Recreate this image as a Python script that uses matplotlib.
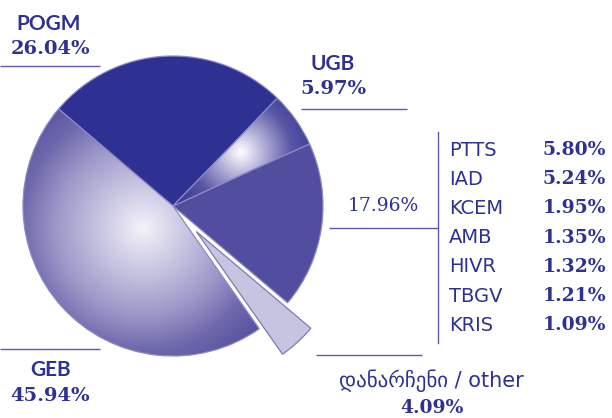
import numpy as np
import matplotlib
matplotlib.use("Agg")
import matplotlib.pyplot as plt
from matplotlib.colors import LinearSegmentedColormap

# ---- data ----
slice_names = ["POGM", "UGB", "group", "დანარჩენი / other", "GEB"]
slice_values = [26.04, 5.97, 17.96, 4.09, 45.94]
group_names = ["PTTS", "IAD", "KCEM", "AMB", "HIVR", "TBGV", "KRIS"]
group_values = [5.80, 5.24, 1.95, 1.35, 1.32, 1.21, 1.09]

NAVY = "#2E3192"
TXT = "#2E3192"
LINE = "#5E5BAA"

W, H = 612, 418
fig = plt.figure(figsize=(W / 100, H / 100), dpi=100)
ax = fig.add_axes([0, 0, 1, 1])

cx, cy, R = 173, H - 206, 150
explode = [0, 0, 0, 0.23 * R, 0]
colors = [NAVY, NAVY, "#524E9F", "#C6C4E1", "#6C66AC"]
wedges, _ = ax.pie(slice_values, colors=colors, startangle=139.7, counterclock=False,
                   explode=explode, center=(cx, cy), radius=R,
                   wedgeprops=dict(edgecolor="#8C89C6", linewidth=0.9))
wedges[3].set_edgecolor("#7C79B9")

# radial gradients
xs = np.linspace(cx - R - 5, cx + R + 5, 400)
ys = np.linspace(cy - R - 5, cy + R + 5, 400)
XX, YY = np.meshgrid(xs, ys)
ext = [xs[0], xs[-1], ys[0], ys[-1]]

def grad(idx, fx, fy, scale, stops):
    cmap = LinearSegmentedColormap.from_list("g%d" % idx, stops)
    d = np.sqrt((XX - fx) ** 2 + (YY - fy) ** 2) / scale
    d = np.clip(d, 0, 1)
    im = ax.imshow(d, extent=ext, origin="lower", cmap=cmap, vmin=0, vmax=1,
                   interpolation="bilinear", zorder=1.5)
    w = wedges[idx]
    w.set_facecolor("none")
    w.set_zorder(2)
    im.set_clip_path(w)

grad(4, 143, H - 228, 175, [(0, "#F3F2FA"), (0.25, "#C8C5E2"), (0.5, "#9C97C8"),
                            (0.7, "#6E68AC"), (1.0, "#48439A")])
grad(1, 241, H - 152, 85, [(0, "#FFFFFF"), (0.3, "#ABA8D4"), (0.6, "#5956A5"),
                           (1.0, NAVY)])

ax.set_xlim(0, W)
ax.set_ylim(0, H)
ax.set_aspect("equal")
ax.axis("off")

SANS = ["Lato", "DejaVu Sans"]
SERIF = "DejaVu Serif"

def pct(v):
    return f"{v:.2f}%"

def hline(x0, x1, ypix):
    ax.plot([x0, x1], [H - ypix, H - ypix], color=LINE, lw=1.0, solid_capstyle="butt")

# POGM
ax.text(49, H - 24, slice_names[0], family=SANS, weight="bold", fontsize=15, color=TXT,
        ha="center", va="center")
ax.text(50, H - 49, pct(slice_values[0]), family=SERIF, weight="bold", fontsize=14, color=TXT,
        ha="center", va="center")
hline(0, 100, 66)

# UGB
ax.text(333, H - 64, slice_names[1], family=SANS, weight="bold", fontsize=15, color=TXT,
        ha="center", va="center")
ax.text(333, H - 89, pct(slice_values[1]), family=SERIF, weight="bold", fontsize=14, color=TXT,
        ha="center", va="center")
hline(301, 407, 109)

# group
ax.text(383, H - 206, pct(slice_values[2]), family=SERIF, weight="medium", fontsize=13.5,
        color=TXT, ha="center", va="center")
hline(329, 438, 228)
ax.plot([438, 438], [H - 132, H - 343], color=LINE, lw=1.0)
for i, (n, v) in enumerate(zip(group_names, group_values)):
    yp = 150 + i * 29.2
    ax.text(449, H - yp, n, family="DejaVu Sans", fontsize=14, color=TXT,
            ha="left", va="center")
    ax.text(543, H - yp, pct(v), family=SERIF, weight="bold", fontsize=13.5, color=TXT,
            ha="left", va="center")

# other
hline(316, 422, 355)
ax.text(431, H - 381, slice_names[3], family=["DejaVu Sans"], fontsize=15, color=TXT,
        ha="center", va="center")
ax.text(432, H - 408, pct(slice_values[3]), family=SERIF, weight="bold", fontsize=13.5, color=TXT,
        ha="center", va="center")

# GEB
hline(0, 100, 349)
ax.text(51, H - 370, slice_names[4], family=SANS, weight="bold", fontsize=15, color=TXT,
        ha="center", va="center")
ax.text(50, H - 396, pct(slice_values[4]), family=SERIF, weight="bold", fontsize=14, color=TXT,
        ha="center", va="center")

fig.savefig("out.png", dpi=100)
